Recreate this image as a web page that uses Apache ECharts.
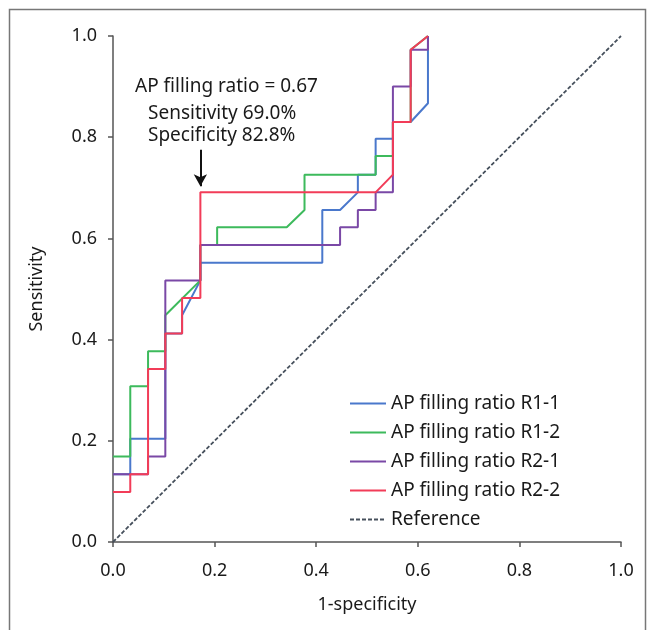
<!DOCTYPE html>
<html>
<head>
<meta charset="utf-8">
<script src="https://cdn.jsdelivr.net/npm/echarts@6/dist/echarts.min.js"></script>
<style>
    html, body {margin: 0; padding: 0; background: #fff;}
    #app {width: 649px; height: 630px;}
</style>
</head>
<body>
<div id="app"></div>
<script>
// ROC curves, points as [1-specificity, sensitivity]
var r11 = [
    [0, 0.134], [0.034, 0.134], [0.034, 0.204], [0.103, 0.204], [0.103, 0.412],
    [0.136, 0.412], [0.136, 0.448], [0.172, 0.517], [0.172, 0.552], [0.412, 0.552],
    [0.412, 0.656], [0.447, 0.656], [0.482, 0.691], [0.482, 0.726], [0.517, 0.726],
    [0.517, 0.797], [0.551, 0.797], [0.551, 0.830], [0.586, 0.830], [0.620, 0.867],
    [0.620, 1.0]
]
var r12 = [
    [0, 0.169], [0.034, 0.169], [0.034, 0.308], [0.069, 0.308], [0.069, 0.377],
    [0.103, 0.377], [0.103, 0.448], [0.172, 0.517], [0.172, 0.587], [0.205, 0.587],
    [0.205, 0.622], [0.342, 0.622], [0.377, 0.656], [0.377, 0.726], [0.517, 0.726],
    [0.517, 0.763], [0.551, 0.763], [0.551, 0.830], [0.586, 0.830], [0.586, 0.973],
    [0.620, 1.0]
]
var r21 = [
    [0, 0.134], [0.069, 0.134], [0.069, 0.169], [0.103, 0.169], [0.103, 0.517],
    [0.172, 0.517], [0.172, 0.587], [0.447, 0.587], [0.447, 0.622], [0.482, 0.622],
    [0.482, 0.656], [0.517, 0.656], [0.517, 0.691], [0.551, 0.691], [0.551, 0.900],
    [0.586, 0.900], [0.586, 0.973], [0.620, 0.973], [0.620, 1.0]
]
var r22 = [
    [0, 0.099], [0.034, 0.099], [0.034, 0.134], [0.069, 0.134], [0.069, 0.342],
    [0.103, 0.342], [0.103, 0.412], [0.136, 0.412], [0.136, 0.482], [0.172, 0.482],
    [0.172, 0.691], [0.517, 0.691], [0.551, 0.726], [0.551, 0.830], [0.586, 0.830],
    [0.586, 0.973], [0.620, 1.0]
]
var refLine = [[0, 0], [1, 1]]

var names = ['AP filling ratio R1-1', 'AP filling ratio R1-2', 'AP filling ratio R2-1', 'AP filling ratio R2-2', 'Reference']
var colors = ['#4a78cc', '#3dba5c', '#7a48a6', '#f23c58', '#46505c']

// cut-off point marked with the arrow
var cutX = 0.172
var cutTop = 0.775
var cutBottom = 0.703

var font = 'Noto Sans'

var chart = echarts.init(document.getElementById('app'))

var lineSeries = (name, data, color) => {
    return {
        name: name,
        type: 'line',
        data: data,
        symbol: 'none',
        animation: false,
        lineStyle: {color: color, width: 2},
        itemStyle: {color: color}
    }
}

var axisCommon = {
    type: 'value',
    min: 0,
    max: 1,
    interval: 0.2,
    splitLine: {show: false},
    axisLine: {show: true, lineStyle: {color: '#555', width: 1.5}},
    axisTick: {show: true, length: 5, lineStyle: {color: '#555', width: 1.5}},
    axisLabel: {
        color: '#1a1a1a',
        fontSize: 18,
        fontFamily: font,
        formatter: (v) => v.toFixed(1)
    },
    nameLocation: 'middle',
    nameTextStyle: {color: '#1a1a1a', fontSize: 18, fontFamily: font}
}

var series = [
    lineSeries(names[0], r11, colors[0]),
    lineSeries(names[1], r12, colors[1]),
    lineSeries(names[2], r21, colors[2]),
    lineSeries(names[3], r22, colors[3]),
    {
        name: names[4],
        type: 'line',
        data: refLine,
        symbol: 'none',
        animation: false,
        z: 1,
        lineStyle: {color: colors[4], width: 1.8, type: [4, 2]},
        itemStyle: {color: colors[4]},
        markLine: {
            silent: true,
            animation: false,
            symbol: ['none', 'arrow'],
            symbolSize: [10, 12],
            label: {show: false},
            lineStyle: {color: '#111', width: 2, type: 'solid'},
            data: [[{coord: [cutX, cutTop]}, {coord: [cutX, cutBottom]}]]
        }
    }
]

chart.setOption({
    backgroundColor: '#fff',
    textStyle: {fontFamily: font},
    grid: {left: 113, right: 28, top: 36, bottom: 88},
    xAxis: Object.assign({}, axisCommon, {
        name: '1-specificity',
        nameGap: 54,
        axisLabel: Object.assign({}, axisCommon.axisLabel, {margin: 20})
    }),
    yAxis: Object.assign({}, axisCommon, {
        name: 'Sensitivity',
        nameGap: 67,
        axisLabel: Object.assign({}, axisCommon.axisLabel, {margin: 16})
    }),
    legend: {
        orient: 'vertical',
        left: 349,
        top: 394,
        padding: 0,
        itemWidth: 36,
        itemHeight: 14,
        itemGap: 10,
        itemStyle: {opacity: 0},
        data: names,
        textStyle: {color: '#1a1a1a', fontSize: 19, fontFamily: font, lineHeight: 19}
    },
    graphic: [
        {
            type: 'rect',
            shape: {x: 9.5, y: 9.5, width: 636, height: 700},
            style: {fill: 'none', stroke: '#777', lineWidth: 1.5},
            silent: true
        },
        {
            type: 'text',
            left: 135,
            top: 77,
            style: {text: 'AP filling ratio = 0.67', fill: '#1a1a1a', font: '19px "Noto Sans"'}
        },
        {
            type: 'text',
            left: 148,
            top: 104,
            style: {text: 'Sensitivity 69.0%', fill: '#1a1a1a', font: '19px "Noto Sans"'}
        },
        {
            type: 'text',
            left: 148,
            top: 126,
            style: {text: 'Specificity 82.8%', fill: '#1a1a1a', font: '19px "Noto Sans"'}
        }
    ],
    series: series
})
</script>
</body>
</html>
